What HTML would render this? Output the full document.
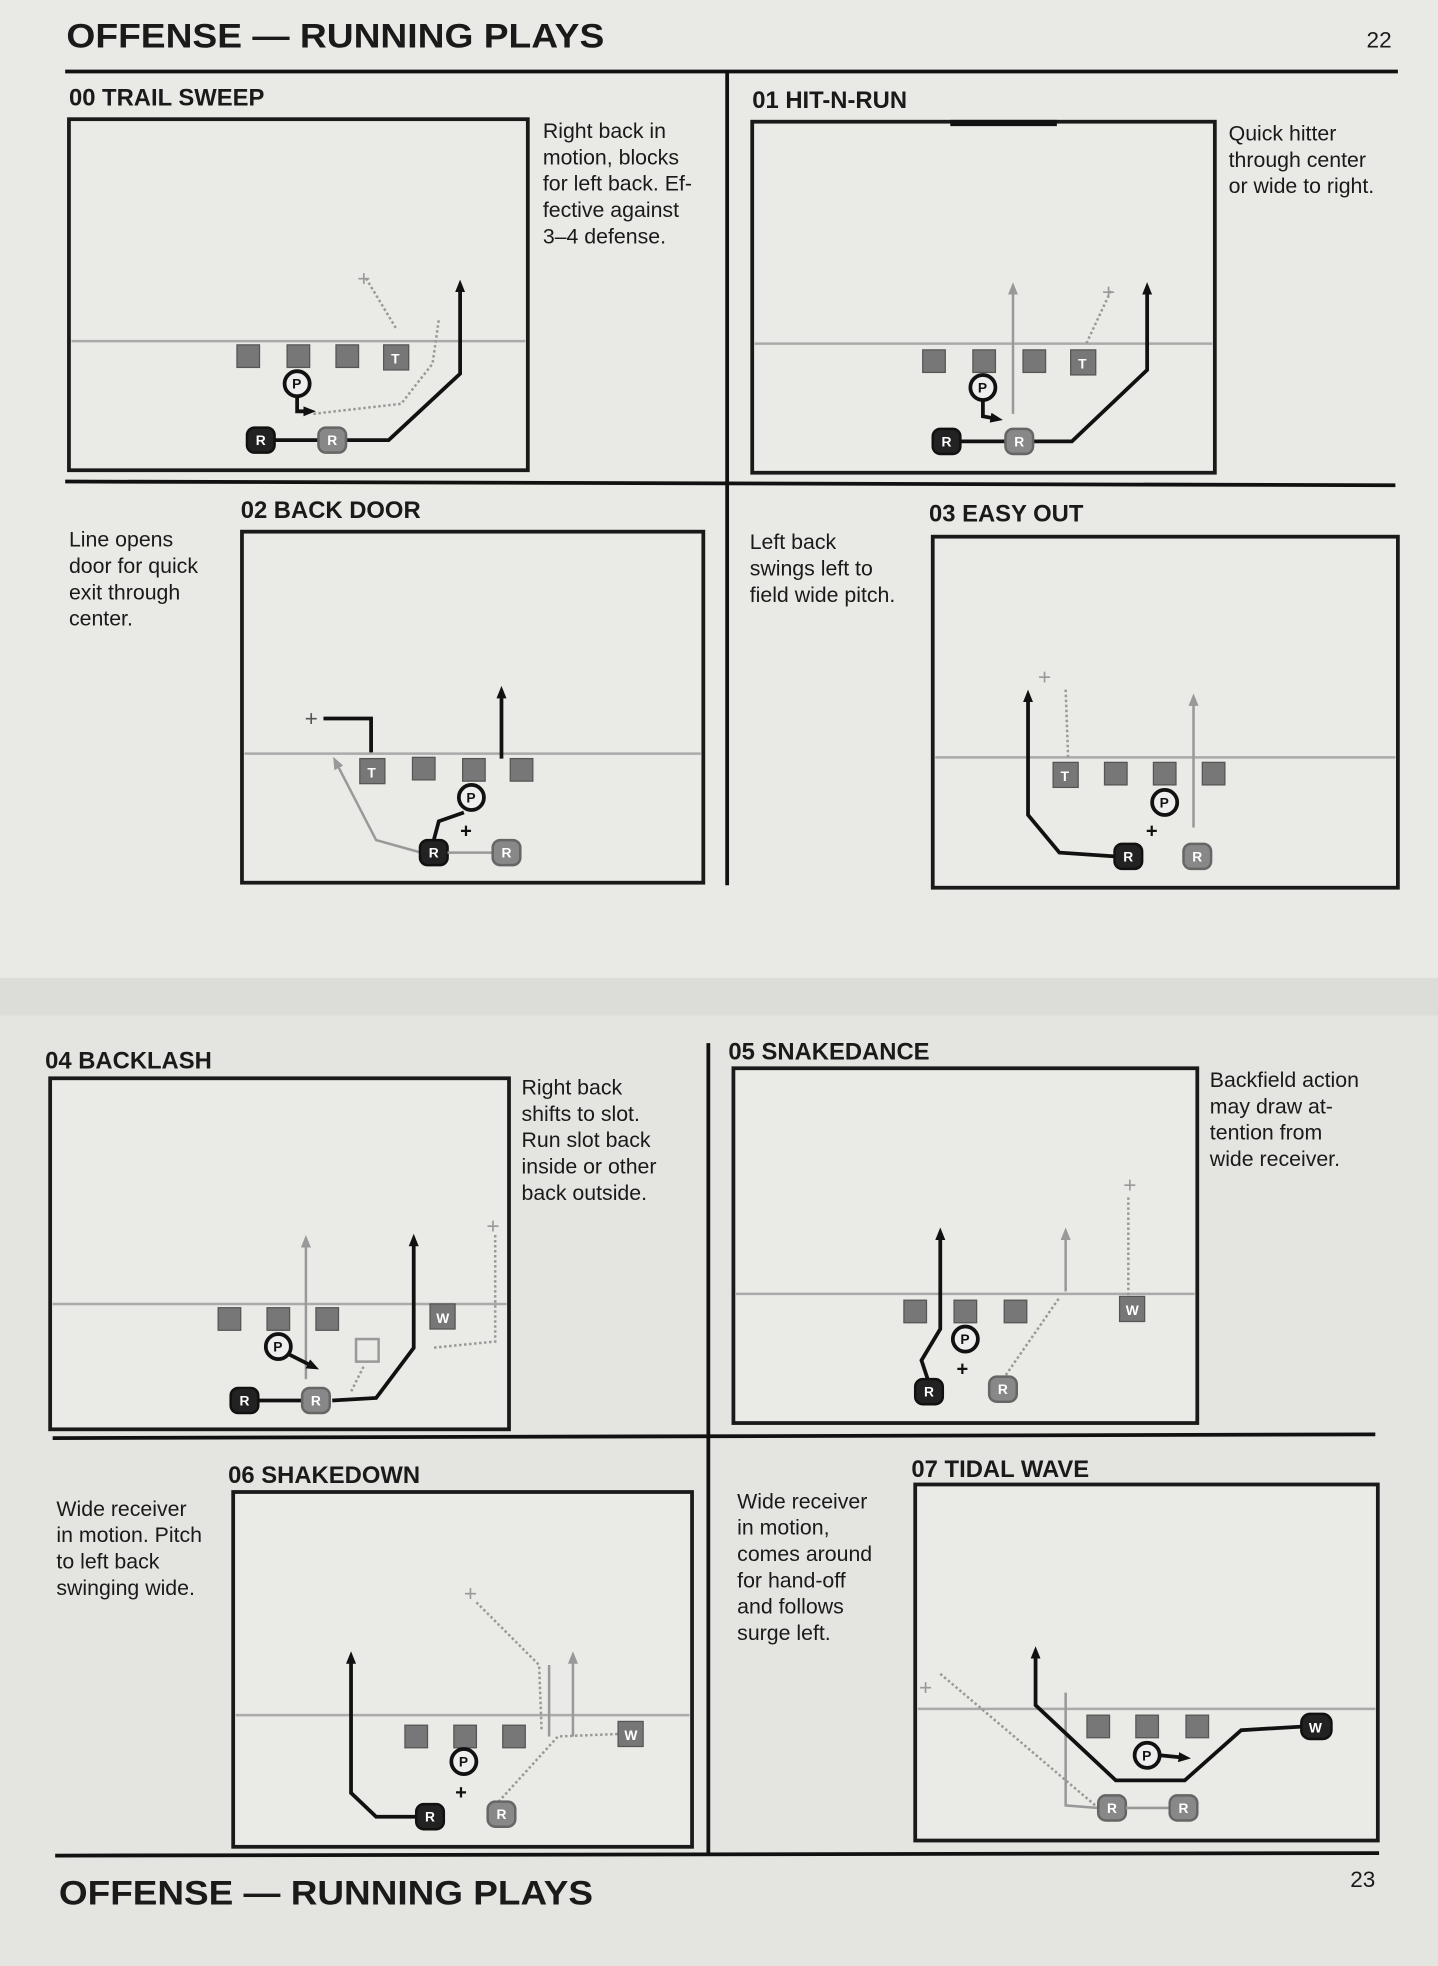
<!DOCTYPE html>
<html><head><style>
html,body{margin:0;padding:0;background:#e6e6e3;}
svg{display:block;}
text{font-family:"Liberation Sans",sans-serif;fill:#1a1a1a;}
.t{font-weight:bold;font-size:19px;}
.d{font-size:17px;}
.h{font-weight:bold;font-size:27px;}
.box{fill:#eaeae7;stroke:#1a1a1a;stroke-width:3;}
.sl{stroke:#aaa;stroke-width:2;}
.bk{stroke:#111;stroke-width:3;fill:none;}
.gr{stroke:#999;stroke-width:2;fill:none;stroke-dasharray:2 2;}
.gs{stroke:#999;stroke-width:2;fill:none;}
.sq{fill:#777;stroke:#555;stroke-width:1;}
.pc{fill:#eee;stroke:#111;stroke-width:3;}
.rb{fill:#222;stroke:#111;stroke-width:2;}
.rg{fill:#888;stroke:#666;stroke-width:2;}
.lt{font-size:11px;font-weight:bold;fill:#fff;font-family:"Liberation Sans",sans-serif;}
.ltb{font-size:11px;font-weight:bold;fill:#111;font-family:"Liberation Sans",sans-serif;}
</style></head><body>
<svg width="1438" height="1966" viewBox="0 0 1147 1568" xmlns="http://www.w3.org/2000/svg">
<defs>
<marker id="ab" markerUnits="userSpaceOnUse" markerWidth="10" markerHeight="10" refX="5" refY="5" orient="auto"><path d="M0,1 L10,5 L0,9 z" fill="#111"/></marker>
<marker id="ag" markerUnits="userSpaceOnUse" markerWidth="10" markerHeight="10" refX="5" refY="5" orient="auto"><path d="M0,1 L10,5 L0,9 z" fill="#999"/></marker>
</defs>
<rect x="0" y="0" width="1147" height="780" fill="#e9e9e6"/>
<rect x="0" y="780" width="1147" height="30" fill="#dcdcd8"/>
<rect x="0" y="810" width="1147" height="758" fill="#e4e4e1"/>

<text class="h" x="53" y="38" textLength="429" lengthAdjust="spacingAndGlyphs">OFFENSE — RUNNING PLAYS</text>
<text x="1090" y="38" style="font-size:18px">22</text>
<line x1="52" y1="57" x2="1115" y2="57" stroke="#111" stroke-width="3"/>
<line x1="580" y1="57" x2="580" y2="706" stroke="#111" stroke-width="3"/>
<line x1="52" y1="384" x2="1113" y2="387" stroke="#111" stroke-width="3"/>

<!-- 00 -->
<text class="t" x="55" y="84">00  TRAIL SWEEP</text>
<rect class="box" x="55" y="95" width="366" height="280"/>
<text class="d" x="433" y="110">Right back in</text>
<text class="d" x="433" y="131">motion, blocks</text>
<text class="d" x="433" y="152">for left back. Ef-</text>
<text class="d" x="433" y="173">fective against</text>
<text class="d" x="433" y="194">3–4 defense.</text>
<line class="sl" x1="57" y1="272" x2="419" y2="272"/>
<path class="gr" d="M292,222 L316,262"/>
<text x="285" y="228" style="font-size:18px;fill:#999">+</text>
<path class="gr" d="M250,330 L320,322 L345,290 L350,255"/>
<rect class="sq" x="189" y="275" width="18" height="18"/><rect class="sq" x="229" y="275" width="18" height="18"/><rect class="sq" x="268" y="275" width="18" height="18"/>
<rect class="sq" x="306" y="275" width="20" height="20"/><text class="lt" x="312" y="290">T</text>
<path d="M237,315 L237,328 L247,328" class="bk" stroke-width="2" marker-end="url(#ab)"/>
<circle class="pc" cx="237" cy="306" r="10"/><text class="ltb" x="233" y="310">P</text>
<path class="bk" d="M208,351 L265,351 L310,351 L367,298 L367,228" marker-end="url(#ab)"/>
<rect class="rb" x="197" y="341" width="22" height="20" rx="6"/><text class="lt" x="204" y="355">R</text>
<rect class="rg" x="254" y="341" width="22" height="20" rx="6"/><text class="lt" x="261" y="355">R</text>

<!-- 01 -->
<text class="t" x="600" y="86">01  HIT-N-RUN</text>
<rect class="box" x="600" y="97" width="369" height="280"/>
<line x1="758" y1="98" x2="843" y2="98" stroke="#111" stroke-width="5"/>
<text class="d" x="980" y="112">Quick hitter</text>
<text class="d" x="980" y="133">through center</text>
<text class="d" x="980" y="154">or wide to right.</text>
<line class="sl" x1="602" y1="274" x2="967" y2="274"/>
<path class="gs" d="M808,330 L808,230" marker-end="url(#ag)"/>
<path class="gr" d="M886,232 L866,275"/>
<text x="879" y="239" style="font-size:18px;fill:#999">+</text>
<rect class="sq" x="736" y="279" width="18" height="18"/><rect class="sq" x="776" y="279" width="18" height="18"/><rect class="sq" x="816" y="279" width="18" height="18"/>
<rect class="sq" x="854" y="279" width="20" height="20"/><text class="lt" x="860" y="294">T</text>
<path d="M784,318 L784,332 L795,334" class="bk" stroke-width="2" marker-end="url(#ab)"/>
<circle class="pc" cx="784" cy="309" r="10"/><text class="ltb" x="780" y="313">P</text>
<path class="bk" d="M755,352 L855,352 L915,295 L915,230" marker-end="url(#ab)"/>
<rect class="rb" x="744" y="342" width="22" height="20" rx="6"/><text class="lt" x="751" y="356">R</text>
<rect class="rg" x="802" y="342" width="22" height="20" rx="6"/><text class="lt" x="809" y="356">R</text>

<!-- 02 -->
<text class="t" x="192" y="413">02  BACK DOOR</text>
<rect class="box" x="193" y="424" width="368" height="280"/>
<text class="d" x="55" y="436">Line opens</text>
<text class="d" x="55" y="457">door for quick</text>
<text class="d" x="55" y="478">exit through</text>
<text class="d" x="55" y="499">center.</text>
<line class="sl" x1="195" y1="601" x2="559" y2="601"/>
<path class="gs" d="M336,680 L300,670 L268,608" marker-end="url(#ag)"/>
<text x="243" y="579" style="font-size:18px;fill:#555">+</text>
<path class="bk" stroke-width="2" d="M258,573 L296,573 L296,600"/>
<path class="bk" d="M400,605 L400,552" marker-end="url(#ab)"/>
<rect class="sq" x="287" y="605" width="20" height="20"/><text class="lt" x="293" y="620">T</text>
<rect class="sq" x="329" y="604" width="18" height="18"/><rect class="sq" x="369" y="605" width="18" height="18"/><rect class="sq" x="407" y="605" width="18" height="18"/>
<path class="bk" d="M346,670 L350,655 L370,648"/>
<circle class="pc" cx="376" cy="636" r="10"/><text class="ltb" x="372" y="640">P</text>
<text x="367" y="668" style="font-size:16px;fill:#111;font-weight:bold">+</text>
<rect class="rb" x="335" y="670" width="22" height="20" rx="6"/><text class="lt" x="342" y="684">R</text>
<path class="gs" d="M357,680 L393,680"/>
<rect class="rg" x="393" y="670" width="22" height="20" rx="6"/><text class="lt" x="400" y="684">R</text>

<!-- 03 -->
<text class="t" x="741" y="416">03  EASY OUT</text>
<rect class="box" x="744" y="428" width="371" height="280"/>
<text class="d" x="598" y="438">Left back</text>
<text class="d" x="598" y="459">swings left to</text>
<text class="d" x="598" y="480">field wide pitch.</text>
<line class="sl" x1="746" y1="604" x2="1113" y2="604"/>
<text x="828" y="546" style="font-size:18px;fill:#999">+</text>
<path class="gr" d="M850,550 L852,605"/>
<path class="gs" d="M952,660 L952,558" marker-end="url(#ag)"/>
<path class="bk" d="M889,683 L845,680 L820,650 L820,555" marker-end="url(#ab)"/>
<rect class="sq" x="840" y="608" width="20" height="20"/><text class="lt" x="846" y="623">T</text>
<rect class="sq" x="881" y="608" width="18" height="18"/><rect class="sq" x="920" y="608" width="18" height="18"/><rect class="sq" x="959" y="608" width="18" height="18"/>
<circle class="pc" cx="929" cy="640" r="10"/><text class="ltb" x="925" y="644">P</text>
<text x="914" y="668" style="font-size:16px;fill:#111;font-weight:bold">+</text>
<rect class="rb" x="889" y="673" width="22" height="20" rx="6"/><text class="lt" x="896" y="687">R</text>
<rect class="rg" x="944" y="673" width="22" height="20" rx="6"/><text class="lt" x="951" y="687">R</text>

<!-- bottom page -->
<line x1="565" y1="832" x2="565" y2="1480" stroke="#111" stroke-width="3"/>
<line x1="42" y1="1147" x2="1097" y2="1144" stroke="#111" stroke-width="3"/>
<line x1="44" y1="1480" x2="1100" y2="1478" stroke="#111" stroke-width="3"/>

<!-- 04 -->
<text class="t" x="36" y="852">04  BACKLASH</text>
<rect class="box" x="40" y="860" width="366" height="280"/>
<text class="d" x="416" y="873">Right back</text>
<text class="d" x="416" y="894">shifts to slot.</text>
<text class="d" x="416" y="915">Run slot back</text>
<text class="d" x="416" y="936">inside or other</text>
<text class="d" x="416" y="957">back outside.</text>
<line class="sl" x1="42" y1="1040" x2="404" y2="1040"/>
<path class="gs" d="M244,1100 L244,990" marker-end="url(#ag)"/>
<text x="388" y="984" style="font-size:18px;fill:#999">+</text>
<path class="gr" d="M395,985 L395,1070 L345,1075"/>
<rect x="284" y="1068" width="18" height="18" fill="none" stroke="#999" stroke-width="2"/>
<path class="gr" d="M290,1090 L280,1110"/>
<path class="bk" d="M265,1117 L300,1115 L330,1075 L330,989" marker-end="url(#ab)"/>
<rect class="sq" x="174" y="1043" width="18" height="18"/><rect class="sq" x="213" y="1043" width="18" height="18"/><rect class="sq" x="252" y="1043" width="18" height="18"/>
<rect class="sq" x="343" y="1040" width="20" height="20"/><text class="lt" x="348" y="1055">W</text>
<path d="M230,1080 L250,1090" class="bk" stroke-width="2" marker-end="url(#ab)"/>
<circle class="pc" cx="222" cy="1074" r="10"/><text class="ltb" x="218" y="1078">P</text>
<rect class="rb" x="184" y="1107" width="22" height="20" rx="6"/><text class="lt" x="191" y="1121">R</text>
<path class="bk" d="M206,1117 L241,1117"/>
<rect class="rg" x="241" y="1107" width="22" height="20" rx="6"/><text class="lt" x="248" y="1121">R</text>

<!-- 05 -->
<text class="t" x="581" y="845">05  SNAKEDANCE</text>
<rect class="box" x="585" y="852" width="370" height="283"/>
<text class="d" x="965" y="867">Backfield action</text>
<text class="d" x="965" y="888">may draw at-</text>
<text class="d" x="965" y="909">tention from</text>
<text class="d" x="965" y="930">wide receiver.</text>
<line class="sl" x1="587" y1="1032" x2="953" y2="1032"/>
<text x="896" y="951" style="font-size:18px;fill:#999">+</text>
<path class="gr" d="M900,955 L900,1035"/>
<path class="gs" d="M850,1030 L850,984" marker-end="url(#ag)"/>
<path class="gr" d="M800,1100 L845,1035"/>
<path class="bk" d="M740,1100 L735,1085 L750,1060 L750,984" marker-end="url(#ab)"/>
<rect class="sq" x="721" y="1037" width="18" height="18"/><rect class="sq" x="761" y="1037" width="18" height="18"/><rect class="sq" x="801" y="1037" width="18" height="18"/>
<rect class="sq" x="893" y="1034" width="20" height="20"/><text class="lt" x="898" y="1049">W</text>
<circle class="pc" cx="770" cy="1068" r="10"/><text class="ltb" x="766" y="1072">P</text>
<text x="763" y="1097" style="font-size:16px;fill:#111;font-weight:bold">+</text>
<rect class="rb" x="730" y="1100" width="22" height="20" rx="6"/><text class="lt" x="737" y="1114">R</text>
<rect class="rg" x="789" y="1098" width="22" height="20" rx="6"/><text class="lt" x="796" y="1112">R</text>

<!-- 06 -->
<text class="t" x="182" y="1183">06  SHAKEDOWN</text>
<rect class="box" x="186" y="1190" width="366" height="283"/>
<text class="d" x="45" y="1209">Wide receiver</text>
<text class="d" x="45" y="1230">in motion. Pitch</text>
<text class="d" x="45" y="1251">to left back</text>
<text class="d" x="45" y="1272">swinging wide.</text>
<line class="sl" x1="188" y1="1368" x2="550" y2="1368"/>
<text x="370" y="1277" style="font-size:18px;fill:#999">+</text>
<path class="gr" d="M380,1278 L430,1328 L432,1380"/>
<path class="gs" d="M438,1328 L438,1385"/>
<path class="gs" d="M457,1385 L457,1322" marker-end="url(#ag)"/>
<path class="gr" d="M395,1440 L445,1385 L493,1383"/>
<path class="bk" d="M332,1449 L300,1449 L280,1430 L280,1322" marker-end="url(#ab)"/>
<rect class="sq" x="323" y="1376" width="18" height="18"/><rect class="sq" x="362" y="1376" width="18" height="18"/><rect class="sq" x="401" y="1376" width="18" height="18"/>
<rect class="sq" x="493" y="1373" width="20" height="20"/><text class="lt" x="498" y="1388">W</text>
<circle class="pc" cx="370" cy="1405" r="10"/><text class="ltb" x="366" y="1409">P</text>
<text x="363" y="1435" style="font-size:16px;fill:#111;font-weight:bold">+</text>
<rect class="rb" x="332" y="1439" width="22" height="20" rx="6"/><text class="lt" x="339" y="1453">R</text>
<rect class="rg" x="389" y="1437" width="22" height="20" rx="6"/><text class="lt" x="396" y="1451">R</text>

<!-- 07 -->
<text class="t" x="727" y="1178">07  TIDAL WAVE</text>
<rect class="box" x="730" y="1184" width="369" height="284"/>
<text class="d" x="588" y="1203">Wide receiver</text>
<text class="d" x="588" y="1224">in motion,</text>
<text class="d" x="588" y="1245">comes around</text>
<text class="d" x="588" y="1266">for hand-off</text>
<text class="d" x="588" y="1287">and follows</text>
<text class="d" x="588" y="1308">surge left.</text>
<line class="sl" x1="732" y1="1363" x2="1097" y2="1363"/>
<text x="733" y="1352" style="font-size:18px;fill:#999">+</text>
<path class="gr" d="M750,1335 L876,1442"/>
<path class="gs" d="M850,1350 L850,1440 L876,1442"/>
<path class="bk" d="M1040,1377 L990,1380 L945,1420 L890,1420 L826,1360 L826,1318" marker-end="url(#ab)"/>
<rect class="sq" x="867" y="1368" width="18" height="18"/><rect class="sq" x="906" y="1368" width="18" height="18"/><rect class="sq" x="946" y="1368" width="18" height="18"/>
<rect class="rb" x="1038" y="1367" width="24" height="20" rx="7"/><text class="lt" x="1044" y="1382">W</text>
<path d="M925,1400 L945,1402" class="bk" stroke-width="2" marker-end="url(#ab)"/>
<circle class="pc" cx="915" cy="1400" r="10"/><text class="ltb" x="911" y="1404">P</text>
<rect class="rg" x="876" y="1432" width="22" height="20" rx="6"/><text class="lt" x="883" y="1446">R</text>
<path class="gs" d="M898,1442 L933,1442"/>
<rect class="rg" x="933" y="1432" width="22" height="20" rx="6"/><text class="lt" x="940" y="1446">R</text>

<text class="h" x="47" y="1519" textLength="426" lengthAdjust="spacingAndGlyphs">OFFENSE — RUNNING PLAYS</text>
<text x="1077" y="1505" style="font-size:18px">23</text>
</svg>
</body></html>
